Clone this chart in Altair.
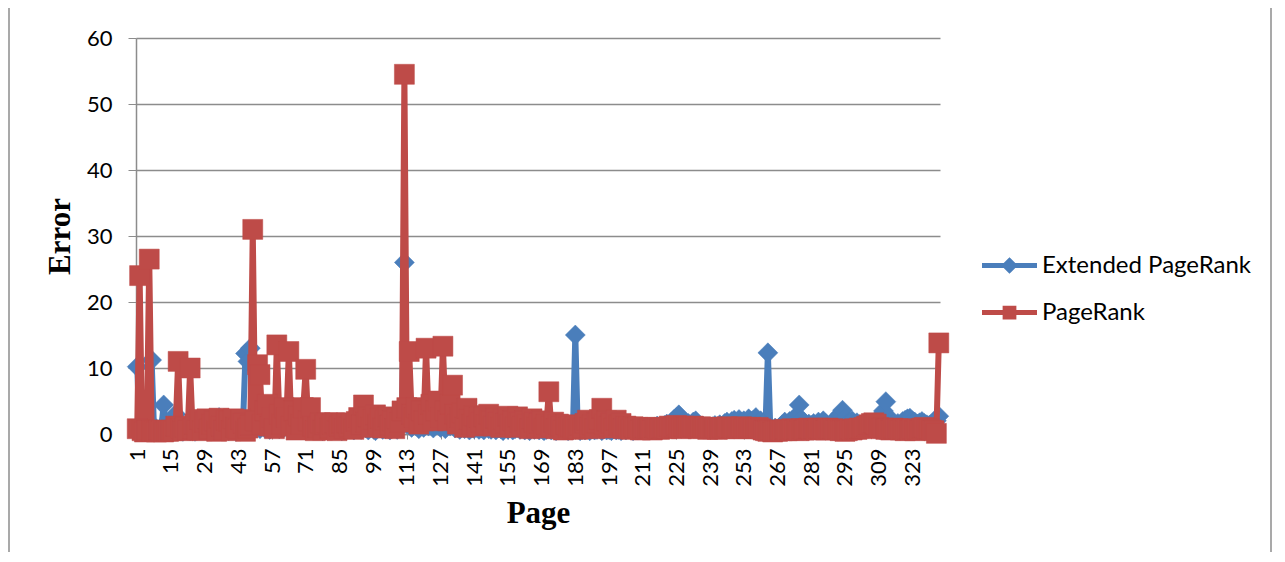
import altair as alt
import pandas as pd

series_names = ["Extended PageRank", "PageRank"]
series_colors = ["#4a7ebb", "#be4b48"]

extended = [
    10.2, 0.8, 1.0, 0.6, 0.9, 1.2, 11.2, 0.5, 0.8, 0.6, 1.0, 4.4, 0.7, 0.5, 0.9, 1.5, 3.0, 0.6, 0.8, 0.4,
    0.6, 0.9, 0.5, 0.7, 0.4, 1.0, 0.8, 0.6, 1.2, 2.0, 0.5, 0.9, 1.4, 0.7, 2.5, 0.6, 1.1, 0.8, 0.5, 1.0,
    0.7, 0.4, 0.6, 1.2, 2.0, 12.2, 11.0, 13.0, 2.5, 1.0, 1.5, 0.8, 2.2, 0.9, 1.6, 0.7, 3.0, 1.2, 2.4, 0.8,
    1.8, 1.0, 2.6, 0.9, 1.2, 2.0, 0.8, 1.5, 0.6, 2.2, 1.0, 0.7, 1.4, 0.9, 2.0, 0.8, 1.3, 0.5, 1.1, 0.7,
    0.9, 0.6, 1.2, 0.8, 1.0, 0.5, 1.3, 0.7, 0.9, 1.1, 0.6, 0.8, 1.0, 0.7, 1.2, 0.9, 0.6, 1.0, 0.8, 0.5,
    0.9, 1.1, 0.7, 0.8, 1.0, 0.6, 0.9, 1.2, 0.7, 1.0, 2.0, 26.0, 1.5, 3.0, 1.0, 2.5, 1.2, 0.8, 2.0, 1.0,
    2.5, 1.2, 1.8, 0.9, 2.2, 1.5, 1.0, 2.0, 0.8, 1.4, 1.2, 2.0, 0.9, 1.0, 0.7, 1.3, 0.8, 1.1, 0.6, 0.9,
    0.8, 1.0, 0.7, 0.9, 0.6, 1.1, 0.8, 0.7, 1.0, 0.6, 0.9, 0.8, 0.5, 1.0, 0.7, 0.9, 0.6, 0.8, 1.0, 0.7,
    0.9, 0.6, 0.8, 0.5, 0.9, 0.7, 1.0, 0.6, 0.8, 0.5, 0.7, 0.9, 0.6, 0.8, 0.5, 0.7, 0.9, 0.6, 0.8, 0.5,
    0.7, 0.6, 15.0, 0.8, 0.5, 0.7, 0.6, 0.9, 0.5, 0.8, 0.6, 0.7, 0.9, 0.5, 0.8, 0.6, 0.7, 0.5, 0.8, 0.6,
    0.7, 0.5, 0.8, 0.6, 0.9, 0.7, 0.5, 0.8, 0.6, 0.7, 0.9, 0.6, 0.8, 1.0, 0.7, 0.9, 1.2, 0.8, 1.0, 1.3,
    1.5, 1.2, 1.8, 2.2, 2.5, 2.9, 1.8, 1.5, 1.2, 1.6, 1.3, 1.8, 2.0, 1.4, 1.0, 1.2, 0.9, 1.0, 0.8, 1.1,
    1.3, 1.0, 1.4, 1.2, 1.6, 1.8, 1.4, 1.9, 2.1, 1.6, 2.2, 1.8, 2.0, 1.7, 2.3, 1.9, 2.1, 2.5, 1.8, 2.0,
    1.6, 1.2, 12.3, 0.8, 0.6, 0.9, 0.7, 1.0, 1.4, 1.8, 1.5, 1.9, 2.0, 1.6, 2.8, 4.4, 2.2, 1.8, 1.2, 1.5,
    1.3, 1.6, 1.2, 1.8, 1.5, 2.0, 1.6, 1.2, 1.4, 1.8, 2.2, 2.6, 3.0, 3.6, 2.4, 1.6, 1.8, 2.0, 1.5, 1.7,
    1.2, 1.4, 1.1, 1.3, 1.0, 1.2, 1.5, 1.8, 2.2, 2.8, 3.5, 4.9, 2.6, 1.8, 1.5, 1.3, 1.6, 1.4, 1.9, 2.1,
    2.3, 2.4, 2.0, 1.8, 1.5, 1.7, 1.9, 1.6, 1.4, 1.3, 1.5, 1.8, 2.0, 2.7,
]

pagerank = [
    0.8, 24.0, 0.5, 0.3, 0.6, 26.5, 0.4, 0.5, 0.3, 0.6, 0.4, 0.3, 0.5, 0.4, 0.6, 0.5, 1.2, 11.0, 0.8, 0.5,
    1.0, 0.6, 10.0, 0.8, 1.5, 0.6, 2.2, 0.5, 1.8, 2.3, 0.7, 1.5, 2.0, 0.4, 2.4, 1.2, 0.6, 2.1, 1.9, 0.5,
    2.3, 1.0, 0.8, 2.2, 1.6, 0.4, 0.9, 1.3, 31.0, 2.0, 10.5, 9.0, 1.5, 3.5, 4.5, 1.2, 2.5, 0.8, 13.5, 3.0,
    1.5, 4.0, 2.5, 12.5, 1.2, 3.5, 0.6, 2.8, 1.5, 4.0, 9.8, 2.0, 4.0, 1.2, 0.5, 1.0, 1.7, 0.6, 1.4, 1.7,
    0.9, 1.5, 1.7, 0.5, 1.2, 1.6, 0.8, 1.7, 1.1, 1.6, 0.7, 1.9, 2.5, 1.4, 4.4, 1.8, 2.6, 1.0, 2.2, 2.9,
    1.5, 2.4, 0.9, 2.1, 2.6, 1.3, 2.0, 0.8, 2.3, 1.8, 3.5, 54.5, 4.0, 12.5, 3.0, 2.5, 4.0, 1.5, 3.5, 2.0,
    13.0, 3.0, 4.5, 2.0, 3.5, 5.0, 2.5, 13.3, 3.5, 2.0, 4.5, 7.4, 3.0, 1.5, 2.5, 3.2, 1.0, 3.9, 2.2, 1.5,
    2.8, 1.2, 2.5, 1.8, 2.6, 1.4, 3.0, 2.0, 1.2, 2.4, 1.8, 1.0, 2.2, 1.6, 2.7, 1.5, 2.0, 1.0, 2.6, 1.8,
    1.2, 2.0, 1.5, 0.8, 2.3, 1.8, 1.0, 1.6, 2.0, 0.9, 1.5, 6.4, 1.2, 1.8, 0.8, 1.5, 1.2, 0.6, 1.4, 1.0,
    1.2, 0.8, 1.0, 0.7, 1.3, 0.9, 1.6, 2.1, 1.0, 1.4, 0.8, 1.7, 2.2, 3.9, 1.5, 2.0, 1.2, 1.6, 0.9, 2.1,
    1.3, 1.6, 0.8, 1.2, 1.0, 0.7, 1.1, 0.9, 1.0, 0.6, 0.8, 1.0, 0.7, 0.9, 0.6, 1.0, 0.8, 0.7, 0.9, 1.0,
    0.8, 1.2, 0.9, 1.1, 1.3, 1.0, 0.8, 1.2, 1.1, 1.0, 0.9, 1.2, 1.0, 0.8, 1.1, 0.9, 1.0, 0.7, 0.9, 0.8,
    1.0, 0.7, 0.9, 1.0, 0.8, 1.1, 0.9, 1.0, 0.8, 1.0, 0.9, 1.1, 0.8, 1.0, 0.9, 1.0, 0.8, 0.9, 1.0, 0.8,
    0.6, 0.5, 0.4, 0.6, 0.3, 0.5, 0.4, 0.6, 0.5, 0.7, 0.5, 0.6, 0.8, 0.6, 0.7, 0.5, 0.8, 0.6, 0.7, 0.9,
    0.7, 0.8, 0.6, 0.9, 0.7, 0.8, 0.6, 0.9, 0.7, 0.8, 0.6, 0.7, 0.5, 0.6, 0.4, 0.5, 0.7, 0.6, 0.8, 0.7,
    0.9, 0.8, 1.0, 1.2, 1.4, 1.6, 1.7, 1.5, 1.0, 0.8, 0.9, 0.7, 0.8, 0.6, 0.9, 0.7, 0.8, 0.6, 0.7, 0.5,
    0.7, 0.6, 0.8, 0.5, 0.7, 0.6, 0.9, 1.0, 0.7, 0.8, 0.6, 0.5, 0.1, 13.8,
]

pages = list(range(1, len(pagerank) + 1))
x_ticks = list(range(1, len(pages), 14))
y_ticks = [0, 10, 20, 30, 40, 50, 60]

assert len(extended) == len(pagerank) == 334

df = pd.DataFrame({
    "page": pages * 2,
    "value": extended + pagerank,
    "series": [series_names[0]] * len(pages) + [series_names[1]] * len(pages),
})

# legend symbols: line with a diamond / square in the middle (path in [-1, 1] box)
diamond_path = ("M-1,-0.09 L-0.21,-0.09 L0,-0.3 L0.21,-0.09 L1,-0.09 L1,0.09 "
                "L0.21,0.09 L0,0.3 L-0.21,0.09 L-1,0.09 Z")
square_path = ("M-1,-0.09 L-0.25,-0.09 L-0.25,-0.25 L0.25,-0.25 L0.25,-0.09 L1,-0.09 "
               "L1,0.09 L0.25,0.09 L0.25,0.25 L-0.25,0.25 L-0.25,0.09 L-1,0.09 Z")

GRID = "#8c8c8c"
LABEL_FONT = "Lato"

x_enc = alt.X(
    "page:Q",
    scale=alt.Scale(domain=[0.5, 334.5], nice=False, zero=False),
    axis=alt.Axis(
        values=x_ticks, format="d", labelAngle=270, labelAlign="right",
        labelBaseline="middle", labelFont=LABEL_FONT, labelFontSize=22,
        labelColor="black", labelPadding=9, tickSize=5, tickColor=GRID,
        domainColor=GRID, domainWidth=1.5, grid=False, labelOverlap=False,
        title="Page", titleFont="Liberation Serif", titleFontSize=31,
        titleFontWeight="bold", titleColor="black", titlePadding=12,
    ),
)
y_enc = alt.Y(
    "value:Q",
    scale=alt.Scale(domain=[0, 60], nice=False),
    axis=alt.Axis(
        values=y_ticks, labelFont=LABEL_FONT, labelFontSize=22, labelColor="black",
        labelPadding=16, tickSize=8, tickColor=GRID, domainColor=GRID, domainWidth=1.5,
        grid=True, gridColor=GRID, gridWidth=1.5,
        title="Error", titleFont="Liberation Serif", titleFontSize=31,
        titleFontWeight="bold", titleColor="black", titlePadding=10,
    ),
)

base = alt.Chart(df)

layers = []
for name, color, shape in [(series_names[0], series_colors[0], "diamond"),
                           (series_names[1], series_colors[1], "square")]:
    sub = base.transform_filter(alt.datum.series == name)
    layers.append(sub.mark_line(color=color, strokeWidth=6, strokeJoin="round").encode(x=x_enc, y=y_enc))
    layers.append(sub.mark_point(shape=shape, filled=True, opacity=1, size=400, color=color,
                                 stroke=color, strokeWidth=0.5).encode(x=x_enc, y=y_enc))

legend_spec = alt.Legend(
    title=None, orient="none", legendX=846, legendY=200, padding=0,
    symbolSize=3025, symbolStrokeWidth=0, labelFont=LABEL_FONT, labelFontSize=24,
    labelColor="black", labelOffset=5, rowPadding=7, labelLimit=400,
)

legend_layer = base.transform_filter("datum.page < 0").mark_point(
    filled=True, opacity=1, size=3025, strokeWidth=0).encode(
    x=x_enc, y=y_enc,
    color=alt.Color("series:N", scale=alt.Scale(domain=series_names, range=series_colors),
                    legend=legend_spec),
    shape=alt.Shape("series:N", scale=alt.Scale(domain=series_names, range=[diamond_path, square_path]),
                    legend=legend_spec),
)

border_data = alt.Data(values=[{"k": 1}])
left_border = alt.Chart(border_data).mark_rule(color="#8c8c8c", strokeWidth=1.5).encode(
    x=alt.value(-127), y=alt.value(-40), y2=alt.value(600))
right_border = alt.Chart(border_data).mark_rule(color="#8c8c8c", strokeWidth=1.5).encode(
    x=alt.value(1135), y=alt.value(-40), y2=alt.value(600))

chart = alt.layer(*layers, legend_layer, left_border, right_border).properties(
    width=804, height=396,
    padding={"left": 128, "top": 30, "right": 333, "bottom": 118},
    autosize=alt.AutoSizeParams(type="none"),
    background="white",
).configure_view(stroke=None)

chart.save("out.html", embed_options={"renderer": "svg", "actions": False})
